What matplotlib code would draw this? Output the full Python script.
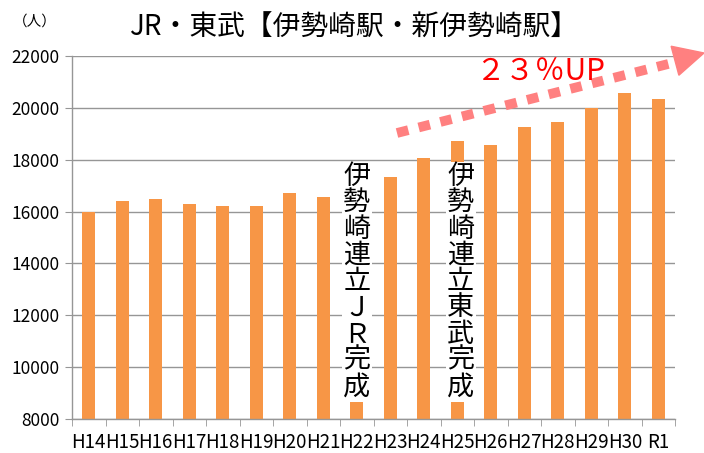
import numpy as np
import matplotlib.pyplot as plt
from matplotlib.lines import Line2D
from matplotlib.patches import Polygon

plt.rcParams['font.family'] = ['Noto Sans CJK JP', 'DejaVu Sans']

years = ['H14', 'H15', 'H16', 'H17', 'H18', 'H19', 'H20', 'H21', 'H22',
         'H23', 'H24', 'H25', 'H26', 'H27', 'H28', 'H29', 'H30', 'R1']
riders = [16000, 16420, 16500, 16300, 16200, 16230, 16700, 16580, 16900,
          17330, 18050, 18740, 18560, 19280, 19460, 20000, 20570, 20350]
yticks = [8000, 10000, 12000, 14000, 16000, 18000, 20000, 22000]

W, H = 704, 453
fig = plt.figure(figsize=(W / 100, H / 100), dpi=100)
ax = fig.add_axes([72 / W, 1 - 419 / H, 603 / W, 363 / H])


def px(x, y):
    # pixel position (from top-left) -> figure fraction
    return x / W, 1 - y / H


x = np.arange(len(years))
ax.bar(x, riders, width=0.4, color='#F79646', zorder=2)

ax.set_xlim(-0.5, len(years) - 0.5)
ax.set_ylim(8000, 22000)
ax.set_yticks(yticks)
ax.set_yticklabels([str(v) for v in yticks], fontsize=12.5)
ax.set_xticks(x)
ax.set_xticklabels(years, fontsize=13.5)
ax.set_xticks(np.arange(len(years) + 1) - 0.5, minor=True)
ax.tick_params(axis='x', which='major', length=0, pad=9)
ax.tick_params(axis='x', which='minor', length=5, color='#969696')
ax.tick_params(axis='y', length=5, color='#969696', pad=4)
ax.grid(axis='y', color='#969696', linewidth=1, zorder=1)
for s in ['top', 'right']:
    ax.spines[s].set_visible(False)
for s in ['left', 'bottom']:
    ax.spines[s].set_color('#969696')
    ax.spines[s].set_linewidth(1)

# vertical notes
note_kw = dict(ha='center', va='top', fontsize=19.5, linespacing=0.965, zorder=5,
               bbox=dict(facecolor='white', edgecolor='none', pad=1))
ax.text(8, 17870, '\n'.join('伊勢崎連立ＪＲ完成'), **note_kw)
ax.text(11.1, 17870, '\n'.join('伊勢崎連立東武完成'), **note_kw)

# title and unit
fig.text(*px(354, 28), 'JR・東武【伊勢崎駅・新伊勢崎駅】', ha='center', va='center',
         fontsize=20)
fig.text(*px(35, 22), '（人）', ha='center', va='center', fontsize=10.5)

# dotted arrow
x0, y0 = px(397, 133)
x1, y1 = px(676, 62)
fig.add_artist(Line2D([x0, x1], [y0, y1], transform=fig.transFigure,
                      color='#FF8080', linewidth=7, linestyle=(0, (1.2, 1.1)),
                      solid_capstyle='butt', dash_capstyle='butt'))
tip = np.array([704, 53.0])
u = np.array([307, -82.0])
u /= np.hypot(*u)
n = np.array([u[1], -u[0]])
base = tip - 30 * u
head = [tip, base + 15 * n, base - 15 * n]
fig.add_artist(Polygon([px(*p) for p in head], closed=True,
                       transform=fig.transFigure, color='#FF8080'))
fig.text(*px(540, 72), '２３％UP', ha='center', va='center', fontsize=21.5,
         color='#FF0000')

fig.savefig('out.png', dpi=100)
